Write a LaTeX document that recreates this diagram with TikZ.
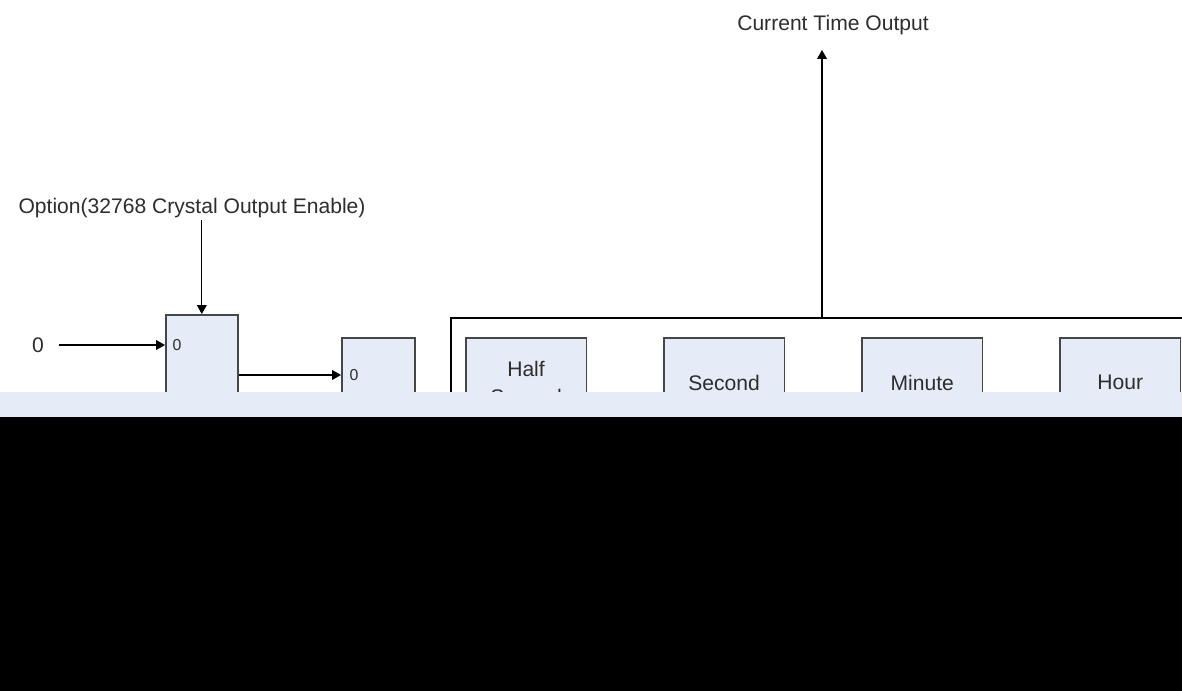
\documentclass[tikz,border=0pt]{standalone}
\usepackage{fontspec}
\setmainfont{Liberation Sans}
\definecolor{BoxFill} {RGB}{230,236,247}
\definecolor{BoxLine} {RGB}{70,70,70}
\definecolor{TextGrey}{RGB}{45,45,45}
\usetikzlibrary{arrows.meta,positioning}

\begin{document}
\begin{tikzpicture}[x=0.2mm,y=-0.2mm,node distance=1.52cm,
  blk/.style={draw=BoxLine,fill=BoxFill,line width=0.9pt,
              minimum width=2.41cm,minimum height=1.8cm,
              align=center,font=\fontsize{12}{16}\selectfont,text=TextGrey},
  mux/.style={draw=BoxLine,fill=BoxFill,line width=0.9pt,
              minimum height=2.7cm,anchor=north west},
  lbl/.style={font=\fontsize{12}{14}\selectfont,text=TextGrey},
  sel/.style={font=\fontsize{9}{10}\selectfont,text=TextGrey},
  sig/.style={-{Triangle[length=5pt,width=5.5pt]},line width=0.6pt}]
  \useasboundingbox (0,0) rectangle (1182,691);
  \clip (0,0) rectangle (1182,691);
  \node[lbl](zero) at (38,345){0};
  \node[lbl,inner sep=1pt](opt) at (192,208){Option(32768 Crystal Output Enable)};
  \node[mux,minimum width=1.44cm](optmux) at (165,314){};
  \node[sel](optin) at (177,345){0};
  \node[mux,minimum width=1.46cm](outmux) at (341,337){};
  \node[sel](outin) at (354,375){0};
  \draw[sig,shorten <=5pt](zero.east)--(optmux.west |- zero);
  \draw[sig](opt.south -| optmux.north)--(optmux.north);
  \draw[sig](optmux.east |- outin)--(outmux.west |- outin);
  \draw[line width=1.2pt](451,470)--(451,318)--(1250,318);
  \coordinate (tap) at (822,318);
  \coordinate (outend) at (822,50);
  \node[lbl](out) at (833,25){Current Time Output};
  \draw[sig](tap)--(outend);
  \node[blk,anchor=north west](half) at (465,337){Half\\Second};
  \node[blk,right=of half](sec){Second};
  \node[blk,right=of sec](min){Minute};
  \node[blk,right=of min](hour){Hour};
  \fill[BoxFill] (0,392) rectangle (1182,417);
  \fill[black] (0,417) rectangle (1182,691);
\end{tikzpicture}
\end{document}
